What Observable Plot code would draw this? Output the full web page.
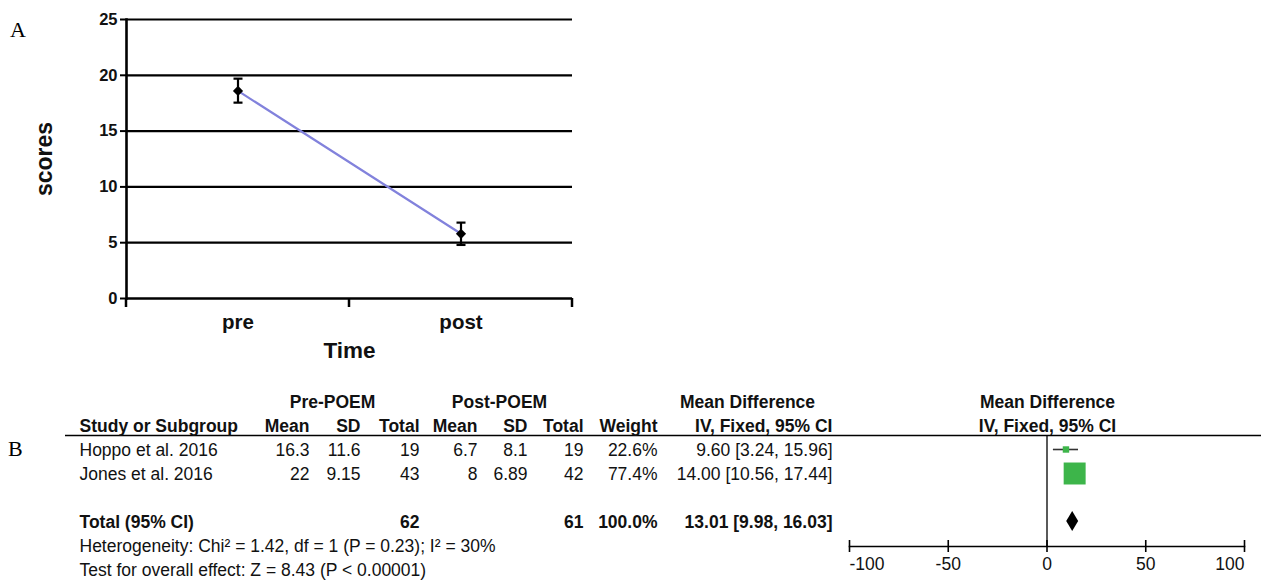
<!DOCTYPE html>
<html><head><meta charset="utf-8">
<script src="https://cdn.jsdelivr.net/npm/d3@7"></script>
<script src="https://cdn.jsdelivr.net/npm/@observablehq/plot@0.6"></script>
<style>
body{margin:0;background:#fff;}
#wrap{position:relative;width:1261px;height:587px;overflow:hidden;background:#fff;}
.letter{position:absolute;font-family:"Liberation Serif","Times New Roman",serif;font-size:22px;line-height:1;color:#000;}
</style></head><body><div id="wrap"></div>
<script>
// ---------- Panel A data ----------
const timePoints = ["pre", "post"];
const meanScores = [18.6, 5.8];
const errLow = [17.55, 4.8];
const errHigh = [19.7, 6.8];
const yTicksA = [0, 5, 10, 15, 20, 25];
const xLabelA = "Time";
const yLabelA = "scores";

// ---------- Panel B data ----------
const studies = ["Hoppo et al. 2016", "Jones et al. 2016"];
const preMean = [16.3, 22];
const preSD = [11.6, 9.15];
const preTotal = [19, 43];
const postMean = [6.7, 8];
const postSD = [8.1, 6.89];
const postTotal = [19, 42];
const weights = [22.6, 77.4];
const meanDiff = [9.60, 14.00];
const ciLow = [3.24, 10.56];
const ciHigh = [15.96, 17.44];
const totalLabel = "Total (95% CI)";
const totalPre = 62;
const totalPost = 61;
const totalWeight = 100.0;
const pooledMD = 13.01;
const pooledLow = 9.98;
const pooledHigh = 16.03;
const heterogeneityText = "Heterogeneity: Chi² = 1.42, df = 1 (P = 0.23); I² = 30%";
const overallEffectText = "Test for overall effect: Z = 8.43 (P < 0.00001)";
const groupHeaders = ["Pre-POEM", "Post-POEM", "Mean Difference", "Mean Difference"];
const columnHeaders = ["Study or Subgroup", "Mean", "SD", "Total", "Mean", "SD", "Total", "Weight", "IV, Fixed, 95% CI", "IV, Fixed, 95% CI"];
const xTicksB = [-100, -50, 0, 50, 100];

// ---------- layout (page pixels) ----------
const font = '"Liberation Sans", Arial, Helvetica, sans-serif';
const colPos = [79, 309, 360, 419, 477, 527, 583, 657, 832, 1047];
const colAnchor = ["start", "end", "end", "end", "end", "end", "end", "end", "end", "middle"];
const groupPos = [332, 499, 747, 1047];
const tableLeft = 65;
const forestLeft = 849, forestRight = 1244;
const topB = 380, heightB = 207;
const fsB = 17.5;

const wrap = document.getElementById("wrap");
function letter(t, x, y) {
  const d = document.createElement("div");
  d.className = "letter"; d.textContent = t;
  d.style.left = x + "px"; d.style.top = y + "px";
  wrap.appendChild(d);
}
function place(svg, left, top) {
  svg.style.position = "absolute";
  svg.style.left = left + "px";
  svg.style.top = top + "px";
  wrap.appendChild(svg);
}

// ---------- Panel A ----------
const dataA = timePoints.map((t, i) => ({time: t, mean: meanScores[i], lo: errLow[i], hi: errHigh[i]}));
const capSymbol = {draw(ctx) { ctx.moveTo(-4.5, 0); ctx.lineTo(4.5, 0); }};
const bandEdgeTicks = (index, scales, values, dims) => {
  const x = scales.x;
  const dom = x.domain();
  const step = x(dom[1]) - x(dom[0]);
  const edges = dom.map(d => x(d)).concat([x(dom[dom.length - 1]) + step]);
  const y0 = dims.height - dims.marginBottom;
  const g = d3.create("svg:g");
  g.selectAll("line").data(edges).join("line")
    .attr("x1", d => d).attr("x2", d => d)
    .attr("y1", y0).attr("y2", y0 + 9)
    .attr("stroke", "black").attr("stroke-width", 2.5);
  return g.node();
};

const plotA = Plot.plot({
  width: 600, height: 370,
  marginLeft: 126, marginRight: 28, marginTop: 19, marginBottom: 72,
  style: {fontFamily: font, background: "transparent", overflow: "visible", color: "black"},
  x: {type: "band", domain: timePoints, padding: 0, axis: null},
  y: {domain: [0, 25], axis: null},
  marks: [
    Plot.ruleY(yTicksA.filter(d => d > 0), {y: d => d, stroke: "black", strokeWidth: 2.2}),
    Plot.ruleY([0], {y: d => d, stroke: "black", strokeWidth: 2.6}),
    Plot.frame({anchor: "left", stroke: "black", strokeWidth: 2.6}),
    Plot.axisY({ticks: yTicksA, tickSize: 6, tickFormat: () => "", strokeWidth: 2, stroke: "black"}),
    bandEdgeTicks,
    Plot.line(dataA, {x: "time", y: "mean", stroke: "#8282dc", strokeWidth: 2.2}),
    Plot.ruleX(dataA, {x: "time", y1: "lo", y2: "hi", stroke: "black", strokeWidth: 2.2}),
    Plot.dot(dataA, {x: "time", y: "lo", symbol: capSymbol, r: 4, stroke: "black", strokeWidth: 2.2, fill: "none"}),
    Plot.dot(dataA, {x: "time", y: "hi", symbol: capSymbol, r: 4, stroke: "black", strokeWidth: 2.2, fill: "none"}),
    Plot.dot(dataA, {x: "time", y: "mean", symbol: "diamond2", r: 4.6, fill: "black", stroke: "none"}),
    Plot.text(yTicksA, {y: d => d, text: d => String(d), frameAnchor: "left", dx: -9, textAnchor: "end", lineAnchor: "middle", fontSize: 16.5, fontWeight: "bold", fill: "#111"}),
    Plot.text(dataA, {x: "time", text: "time", frameAnchor: "bottom", dy: 24, textAnchor: "middle", lineAnchor: "middle", fontSize: 20.5, fontWeight: "bold", fill: "#111"}),
    Plot.text([xLabelA], {text: d => d, frameAnchor: "bottom", dy: 52, textAnchor: "middle", lineAnchor: "middle", fontSize: 22.5, fontWeight: "bold", fill: "#111"}),
    Plot.text([yLabelA], {text: d => d, frameAnchor: "left", dx: 44 - 126, rotate: -90, textAnchor: "middle", lineAnchor: "middle", fontSize: 23, fontWeight: "bold", fill: "#111"})
  ]
});
place(plotA, 0, 0);

// ---------- Panel B ----------
const rowKeys = ["hdr1", "hdr2", ...studies, "gap", totalLabel, "het", "test"];
const yB = {type: "point", domain: rowKeys, range: [22, 190], padding: 0, axis: null};
const fmt2 = v => v.toFixed(2);
const ciText = (m, l, h) => `${fmt2(m)} [${fmt2(l)}, ${fmt2(h)}]`;

const cells = [];
groupHeaders.forEach((t, i) => cells.push({row: "hdr1", text: t, pos: groupPos[i], anchor: "middle", bold: true}));
columnHeaders.forEach((t, i) => cells.push({row: "hdr2", text: t, pos: colPos[i], anchor: colAnchor[i], bold: true}));
studies.forEach((s, i) => {
  const vals = [s, String(preMean[i]), String(preSD[i]), String(preTotal[i]), String(postMean[i]), String(postSD[i]),
    String(postTotal[i]), weights[i].toFixed(1) + "%", ciText(meanDiff[i], ciLow[i], ciHigh[i])];
  vals.forEach((t, j) => cells.push({row: s, text: t, pos: colPos[j], anchor: colAnchor[j], bold: false}));
});
cells.push({row: totalLabel, text: totalLabel, pos: colPos[0], anchor: "start", bold: true});
cells.push({row: totalLabel, text: String(totalPre), pos: colPos[3], anchor: "end", bold: true});
cells.push({row: totalLabel, text: String(totalPost), pos: colPos[6], anchor: "end", bold: true});
cells.push({row: totalLabel, text: totalWeight.toFixed(1) + "%", pos: colPos[7], anchor: "end", bold: true});
cells.push({row: totalLabel, text: ciText(pooledMD, pooledLow, pooledHigh), pos: colPos[8], anchor: "end", bold: true});
cells.push({row: "het", text: heterogeneityText, pos: colPos[0], anchor: "start", bold: false});
cells.push({row: "test", text: overallEffectText, pos: colPos[0], anchor: "start", bold: false});

const tablePlot = Plot.plot({
  width: 1261, height: heightB,
  marginLeft: tableLeft, marginRight: 0, marginTop: 55, marginBottom: 41,
  style: {fontFamily: font, background: "transparent", overflow: "visible", color: "black"},
  y: yB,
  marks: [
    Plot.ruleY(["hdr2"], {y: d => d, dy: 9, stroke: "black", strokeWidth: 1.6}),
    ...cells.map(c => Plot.text([c], {
      y: d => d.row, text: d => d.text, frameAnchor: "left", dx: c.pos - tableLeft,
      textAnchor: c.anchor, lineAnchor: "middle", fontWeight: c.bold ? "bold" : "normal", fontSize: fsB, fill: "#111"
    }))
  ]
});
place(tablePlot, 0, topB);

const studyData = studies.map((s, i) => ({row: s, md: meanDiff[i], lo: ciLow[i], hi: ciHigh[i], w: weights[i]}));
const pooled = {row: totalLabel, md: pooledMD, lo: pooledLow, hi: pooledHigh};
const diamondMark = (index, scales) => {
  const x = scales.x, y = scales.y;
  const yc = y(pooled.row) - 1, h = 10;
  const p = d3.path();
  p.moveTo(x(pooled.lo), yc); p.lineTo(x(pooled.md), yc - h);
  p.lineTo(x(pooled.hi), yc); p.lineTo(x(pooled.md), yc + h); p.closePath();
  const g = d3.create("svg:g");
  g.append("path").attr("d", p.toString()).attr("fill", "black");
  return g.node();
};
const fH = heightB - 55 - 41;
const forestPlot = Plot.plot({
  width: 1261, height: heightB,
  marginLeft: forestLeft, marginRight: 1261 - forestRight, marginTop: 55, marginBottom: 41,
  style: {fontFamily: font, background: "transparent", overflow: "visible", color: "black"},
  x: {domain: [xTicksB[0], xTicksB[xTicksB.length - 1]], axis: null},
  y: yB,
  r: {type: "linear", domain: [0, d3.max(weights)], range: [0, 12.4]},
  marks: [
    Plot.ruleX([0], {x: d => d, stroke: "black", strokeWidth: 1.3}),
    Plot.frame({anchor: "bottom", stroke: "black", strokeWidth: 1.6}),
    Plot.ruleX(xTicksB, {x: d => d, insetTop: fH - 6, insetBottom: -6, stroke: "black", strokeWidth: 1.6}),
    Plot.text(xTicksB.filter((d, i) => i > 0 && i < xTicksB.length - 1), {x: d => d, text: d => String(d), frameAnchor: "bottom", dy: 18, textAnchor: "middle", lineAnchor: "middle", fontSize: fsB, fill: "#111"}),
    Plot.text([xTicksB[0]], {x: d => d, text: d => String(d), frameAnchor: "bottom", dy: 18, textAnchor: "start", lineAnchor: "middle", fontSize: fsB, fill: "#111"}),
    Plot.text([xTicksB[xTicksB.length - 1]], {x: d => d, text: d => String(d), frameAnchor: "bottom", dy: 18, textAnchor: "end", lineAnchor: "middle", fontSize: fsB, fill: "#111"}),
    Plot.ruleY(studyData, {y: "row", x1: "lo", x2: "hi", dy: -1, stroke: "#333", strokeWidth: 1.6}),
    Plot.dot(studyData, {x: "md", y: "row", r: "w", dy: -1, symbol: "square", fill: "#3db54a", stroke: "none"}),
    diamondMark
  ]
});
place(forestPlot, 0, topB);

letter("A", 10, 19);
letter("B", 8, 438);
</script></body></html>
